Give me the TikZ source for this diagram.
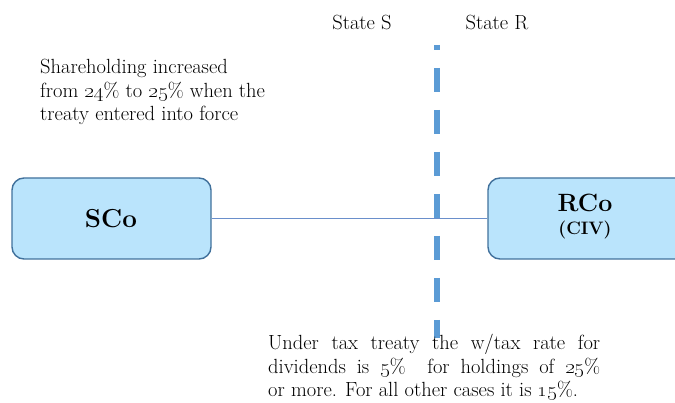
\documentclass[tikz,border=0pt]{standalone}
\usetikzlibrary{calc}
\definecolor{boxfill}{HTML}{BAE4FC}
\definecolor{boxedge}{HTML}{41719C}
\definecolor{linkblue}{HTML}{6A8FCB}
\definecolor{borderblue}{HTML}{5B9BD5}
\tikzset{
  entity/.style={draw=boxedge, line width=1.4pt, fill=boxfill, rounded corners=12pt,
    minimum width=199pt, minimum height=81pt, inner sep=0pt, align=center},
  body/.style={font=\fontsize{20.5}{23.5}\selectfont, inner sep=0pt},
  boxlabel/.style={inner sep=0pt, anchor=base, font=\bfseries},
}
\begin{document}
\begin{tikzpicture}[x=1pt,y=-1pt]
\useasboundingbox (0,0) rectangle (675,403);
\clip (0,0) rectangle (675,403);
% border between the two states
\draw[borderblue, line width=6pt, dash pattern=on 24pt off 18pt, dash phase=19pt]
  (437,45) coordinate (btop) -- (437,338) coordinate (bbot);
% state labels
\node[body, anchor=base] (stS) at (362,30) {State S};
\node[body, anchor=base] (stR) at (497,30) {State R};
% companies
\node[entity] (sco) at (111.5,218.5) {};
\node[entity] (rco) at (587.5,218.5) {};
\node[boxlabel, font=\fontsize{26}{28}\selectfont\bfseries] (scoName) at (111,228) {SCo};
\node[boxlabel, font=\fontsize{25}{27}\selectfont\bfseries] (rcoName) at (585,212) {RCo};
\node[boxlabel, font=\fontsize{18}{20}\selectfont\bfseries] (rcoSub) at (585,235) {(CIV)};
\draw[linkblue, line width=1.3pt] (sco.east) -- (rco.west);
% notes
\node[body, anchor=north west, align=left] (note1) at (40,59)
  {Shareholding increased\\from \oldstylenums{24}\% to \oldstylenums{25}\% when the\\treaty entered into force};
\node[body, anchor=north west] (note2) at (268,334)
  {\parbox[t]{332pt}{\fontsize{20.5}{23.5}\selectfont\rightskip=0pt\parfillskip=0pt plus 1fil
  Under tax treaty the w/tax rate for\linebreak
  dividends is \oldstylenums{5}\%~ for holdings of \oldstylenums{25}\%\linebreak
  or more. For all other cases it is \oldstylenums{15}\%.}};
\end{tikzpicture}
\end{document}
